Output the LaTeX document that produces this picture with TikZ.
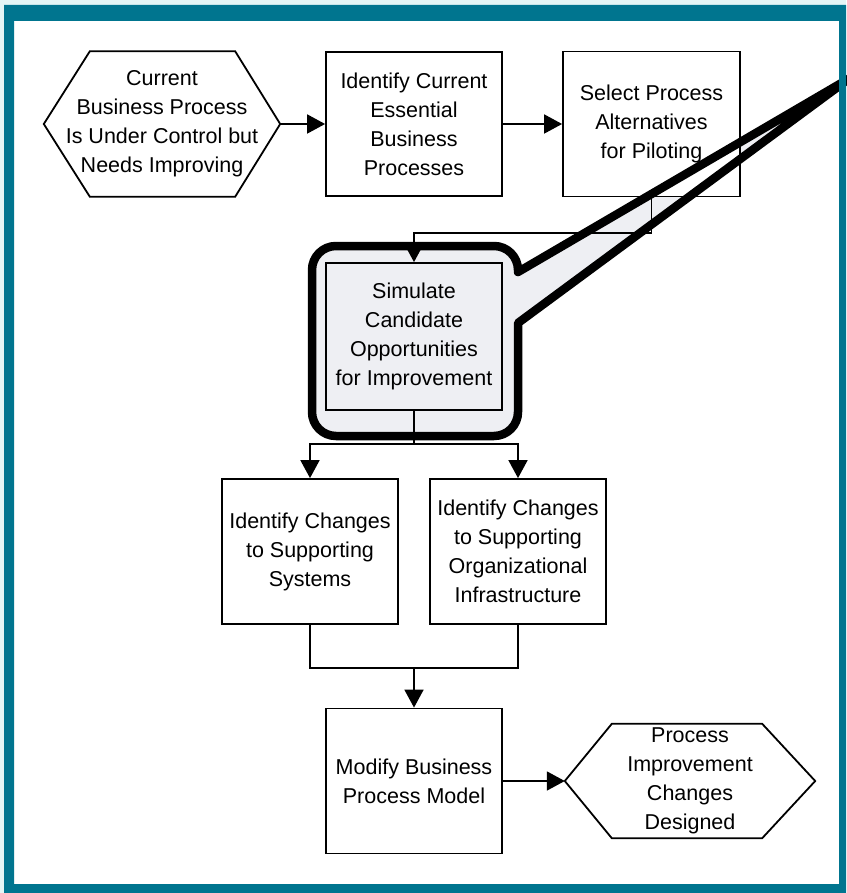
\documentclass[tikz,border=0pt]{standalone}
\usepackage{fontspec}
\setmainfont{Liberation Sans}
\usetikzlibrary{arrows.meta,calc}
\definecolor{frameteal}{HTML}{00758F}
\definecolor{framemist}{HTML}{E4F6F6}
\definecolor{bubblegray}{HTML}{EEEFF3}

% outline of the highlight bubble with its pointer
\newcommand\bubblepath[1]{%
  \path[#1] (518,272) -- (850,78) -- (518,323) -- (518,412)
    .. controls (518,425.25) and (507.25,436) .. (494,436) -- (336,436)
    .. controls (322.75,436) and (312,425.25) .. (312,412) -- (312,270)
    .. controls (312,256.75) and (322.75,246) .. (336,246) -- (494,246)
    .. controls (507.25,246) and (518,256.75) .. (518,270) -- cycle;}

\begin{document}
\begin{tikzpicture}[x=1pt,y=-1pt,
  txt/.style={inner sep=0pt, align=center, font=\fontsize{21.5}{29}\selectfont},
  box/.style={txt, draw=black, line width=1.8pt, fill=white,
    minimum width=176pt, minimum height=145pt},
  link/.style={line width=1.8pt, draw=black},
  flow/.style={link, -{Triangle[length=18pt,width=19pt]}},
  bubble/.style={draw=black, line width=8.5pt, line join=round}]
\useasboundingbox (0,0) rectangle (846,893);
\fill[framemist] (0,0) rectangle (846,893);
\fill[white] (14,21) rectangle (839,884);

% bubble background
\bubblepath{fill=bubblegray}

% start and end events
\node[txt, minimum width=236pt, minimum height=145pt] (h1) at (162,124)
  {Current\\Business Process\\Is Under Control but\\Needs Improving};
\draw[link] (h1.west) -- ($(h1.north west)+(46,0)$) -- ($(h1.north east)+(-45,0)$)
  -- (h1.east) -- ($(h1.south east)+(-45,0)$) -- ($(h1.south west)+(46,0)$) -- cycle;

\node[txt, minimum width=250pt, minimum height=114pt] (h2) at (690,781)
  {Process\\Improvement\\Changes\\Designed};
\draw[link] (h2.west) -- ($(h2.north west)+(47,0)$) -- ($(h2.north east)+(-53,0)$)
  -- (h2.east) -- ($(h2.south east)+(-53,0)$) -- ($(h2.south west)+(47,0)$) -- cycle;

% process steps
\node[box, minimum height=144pt] (b2) at (414,124)
  {Identify Current\\Essential\\Business\\Processes};
\node[box, minimum width=177pt] (b3) at (651.5,124)
  {Select Process\\Alternatives\\for Piloting};
\node[box, fill=none, minimum height=147pt] (sim) at (414,336.5)
  {Simulate\\Candidate\\Opportunities\\for Improvement};
\node[box] (bl) at (310,551.5)
  {Identify Changes\\to Supporting\\Systems};
\node[box] (br) at (518,551.5)
  {Identify Changes\\to Supporting\\Organizational\\Infrastructure};
\node[box] (mod) at (414,781)
  {Modify Business\\Process Model};

% connectors
\draw[flow] (h1.east) -- (b2.west);
\draw[flow] (b2.east) -- (b3.west);
\draw[flow] (b3.south) -- ++(0,36) -| (sim.north);
\coordinate (split) at ($(sim.south)+(0,33)$);
\draw[link] (sim.south) -- (split);
\draw[flow] (split) -| (bl.north);
\draw[flow] (split) -| (br.north);
\coordinate (merge) at ($(mod.north)+(0,-40)$);
\draw[link] (bl.south) |- (merge) -| (br.south);
\draw[flow] (merge) -- (mod.north);
\draw[flow] (mod.east) -- (h2.west);

% bubble outline on top
\bubblepath{bubble}

% frame
\fill[frameteal, even odd rule] (4,5) rectangle (846,893) (14,21) rectangle (839,884);
\end{tikzpicture}
\end{document}
